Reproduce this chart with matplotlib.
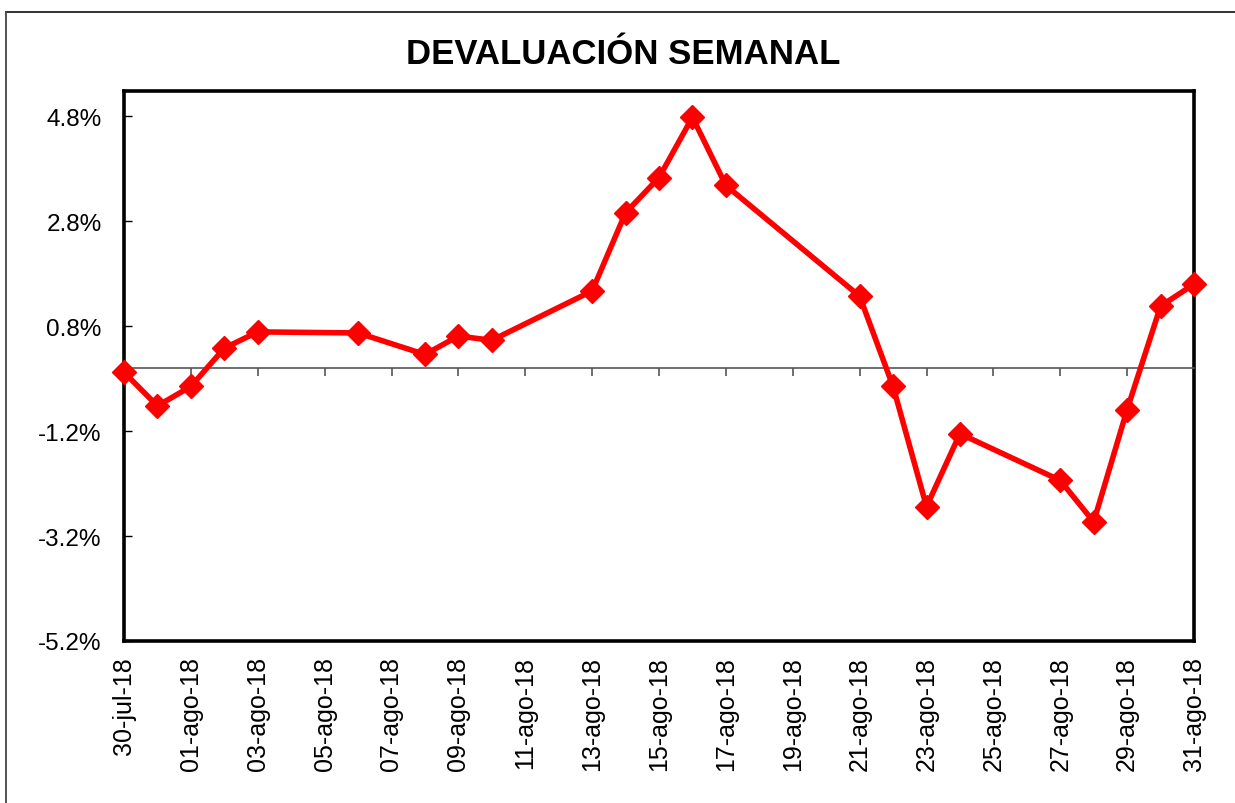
import datetime as dt
import matplotlib
matplotlib.use("Agg")
import matplotlib.pyplot as plt
import matplotlib.dates as mdates
from matplotlib.ticker import FuncFormatter
from matplotlib.lines import Line2D

plt.rcParams['font.family'] = ['Liberation Sans', 'DejaVu Sans']

# data (weekly devaluation, %)
dates = ["2018-07-30", "2018-07-31", "2018-08-01", "2018-08-02", "2018-08-03",
         "2018-08-06", "2018-08-08", "2018-08-09", "2018-08-10", "2018-08-13",
         "2018-08-14", "2018-08-15", "2018-08-16", "2018-08-17", "2018-08-21",
         "2018-08-22", "2018-08-23", "2018-08-24", "2018-08-27", "2018-08-28",
         "2018-08-29", "2018-08-30", "2018-08-31"]
devaluation = [-0.08, -0.72, -0.35, 0.38, 0.69,
               0.67, 0.26, 0.61, 0.53, 1.47,
               2.96, 3.63, 4.78, 3.48, 1.37,
               -0.35, -2.64, -1.25, -2.14, -2.93,
               -0.79, 1.18, 1.60]

tick_dates = ["2018-07-30", "2018-08-01", "2018-08-03", "2018-08-05", "2018-08-07",
              "2018-08-09", "2018-08-11", "2018-08-13", "2018-08-15", "2018-08-17",
              "2018-08-19", "2018-08-21", "2018-08-23", "2018-08-25", "2018-08-27",
              "2018-08-29", "2018-08-31"]
tick_labels = ["30-jul-18", "01-ago-18", "03-ago-18", "05-ago-18", "07-ago-18",
               "09-ago-18", "11-ago-18", "13-ago-18", "15-ago-18", "17-ago-18",
               "19-ago-18", "21-ago-18", "23-ago-18", "25-ago-18", "27-ago-18",
               "29-ago-18", "31-ago-18"]
y_ticks = [-5.2, -3.2, -1.2, 0.8, 2.8, 4.8]

x = [dt.datetime.strptime(d, "%Y-%m-%d") for d in dates]
xt = [mdates.date2num(dt.datetime.strptime(d, "%Y-%m-%d")) for d in tick_dates]

W, H = 1235, 804
fig = plt.figure(figsize=(W / 100, H / 100), dpi=100)
ax = fig.add_axes([124 / W, 1 - 642 / H, (1194 - 124) / W, (642 - 92) / H])

ax.plot(x, devaluation, color='#ff0000', lw=4.0, marker='D', markersize=12.5,
        clip_on=False, zorder=5)

ax.set_xlim(xt[0], xt[-1])
ax.set_ylim(-5.2, 5.28)
ax.set_yticks(y_ticks)
ax.yaxis.set_major_formatter(FuncFormatter(lambda v, p: f"{v:.1f}%"))
ax.tick_params(axis='y', direction='in', length=6, width=1, labelsize=17.5, pad=16)

# category axis crosses at zero, tick marks there
ax.spines['bottom'].set_position(('data', 0))
ax.spines['bottom'].set_color('#555555')
ax.spines['bottom'].set_linewidth(1.2)
ax.set_xticks(xt)
ax.tick_params(axis='x', direction='out', length=6, width=1.2, color='#555555',
               labelbottom=False)

# labels at the low end of the plot area
sec = ax.secondary_xaxis(0.0)
sec.set_xticks(xt)
sec.set_xticklabels(tick_labels, rotation=90)
sec.tick_params(length=0, labelsize=18, pad=11)
sec.spines['bottom'].set_linewidth(2.6)

for s in ['left', 'top', 'right']:
    ax.spines[s].set_linewidth(2.6)
    ax.spines[s].set_color('black')

fig.text(0.505, 1 - 55 / H, "DEVALUACIÓN SEMANAL", ha='center', va='center',
         fontsize=25, fontweight='bold')

# chart area border (top and left edges visible)
fig.add_artist(Line2D([6 / W, 1], [1 - 13 / H, 1 - 13 / H], color='#222222', lw=1.3))
fig.add_artist(Line2D([6 / W, 6 / W], [0, 1 - 13 / H], color='#444444', lw=1.3))

fig.savefig("out.png", dpi=100)
